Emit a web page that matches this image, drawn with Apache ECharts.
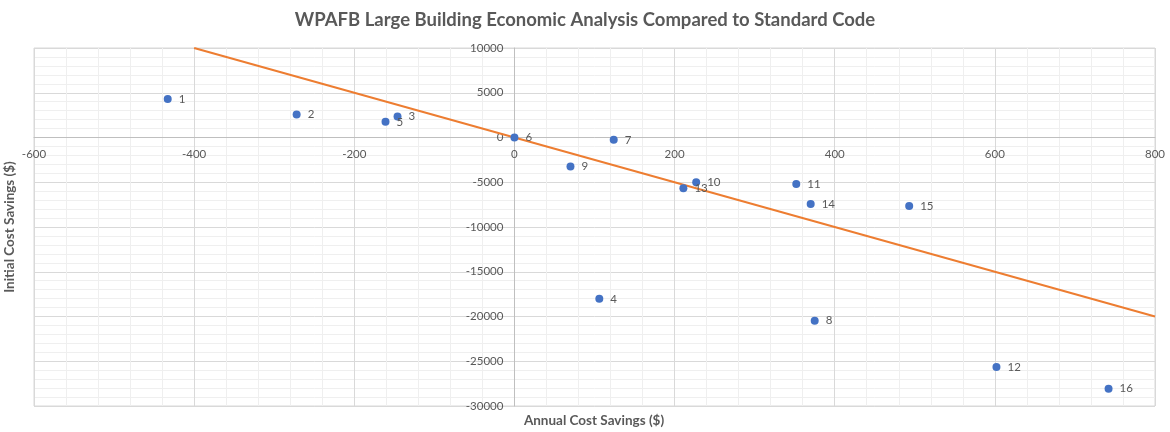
<!DOCTYPE html>
<html>
<head>
<meta charset="utf-8">
<script src="https://cdn.jsdelivr.net/npm/echarts@6/dist/echarts.min.js"></script>
<style>
html,body{margin:0;padding:0;background:#fff;}
#chart{width:1170px;height:432px;}
</style>
</head>
<body>
<div id="chart"></div>
<script>
const pointLabels = ['1','2','3','4','5','6','7','8','9','10','11','12','13','14','15','16'];
const annualSavings = [-433, -272, -146, 106, -161, 0, 124, 375, 70, 227, 352, 602, 211, 370, 493, 742];
const initialSavings = [4300, 2575, 2350, -18030, 1750, 0, -260, -20480, -3250, -5000, -5190, -25630, -5670, -7430, -7650, -28070];
const trendX = [-400, 800];
const trendY = [10000, -20000];
const xMin = -600, xMax = 800, xStep = 200;
const yMin = -30000, yMax = 10000, yStep = 5000;

const fontFam = 'Lato, "Open Sans", sans-serif';
const txt = '#595959';
const W = 1170, H = 432;
const G = {left: 34, right: 15, top: 48, bottom: 26};
const gw = W - G.left - G.right, gh = H - G.top - G.bottom;
// move axes onto the zero lines (axes cross at origin)
const xAxisOffset = -gh * (0 - yMin) / (yMax - yMin);
const yAxisOffset = -gw * (0 - xMin) / (xMax - xMin);

const chart = echarts.init(document.getElementById('chart'), null, {renderer: 'canvas'});
chart.setOption({
  animation: false,
  backgroundColor: '#fff',
  title: {
    text: 'WPAFB Large Building Economic Analysis Compared to Standard Code',
    left: 'center', top: 6,
    textStyle: {fontFamily: fontFam, fontSize: 18.5, fontWeight: 'bold', color: txt}
  },
  grid: {left: G.left, right: G.right, top: G.top, bottom: G.bottom, show: true, borderColor: '#d9d9d9', borderWidth: 1, outerBoundsMode: 'none', containLabel: false},
  xAxis: {
    type: 'value', min: xMin, max: xMax, interval: xStep,
    position: 'bottom', offset: xAxisOffset,
    axisLine: {show: true, onZero: false, lineStyle: {color: '#bfbfbf', width: 1}},
    axisTick: {show: false},
    axisLabel: {color: txt, fontFamily: fontFam, fontSize: 11.5, margin: 11, formatter: v => String(v)},
    splitLine: {show: true, lineStyle: {color: '#d9d9d9', width: 1}},
    minorTick: {show: false, splitNumber: 5},
    minorSplitLine: {show: true, lineStyle: {color: '#efefef', width: 1}}
  },
  yAxis: {
    type: 'value', min: yMin, max: yMax, interval: yStep,
    position: 'left', offset: yAxisOffset,
    axisLine: {show: true, onZero: false, lineStyle: {color: '#bfbfbf', width: 1}},
    axisTick: {show: false},
    axisLabel: {color: txt, fontFamily: fontFam, fontSize: 11.5, margin: 11, formatter: v => String(v)},
    splitLine: {show: true, lineStyle: {color: '#d9d9d9', width: 1}},
    minorTick: {show: false, splitNumber: 5},
    minorSplitLine: {show: true, lineStyle: {color: '#efefef', width: 1}}
  },
  graphic: [
    {type: 'text', x: 594, y: 421, style: {text: 'Annual Cost Savings ($)', fill: txt, font: 'bold 13.5px ' + fontFam, textAlign: 'center', textVerticalAlign: 'middle'}},
    {type: 'text', x: 10, y: 227, rotation: Math.PI / 2, style: {text: 'Initial Cost Savings ($)', fill: txt, font: 'bold 13.5px ' + fontFam, textAlign: 'center', textVerticalAlign: 'middle'}}
  ],
  series: [
    {
      type: 'line',
      data: trendX.map((x, i) => [x, trendY[i]]),
      symbol: 'none',
      lineStyle: {color: '#ED7D31', width: 2},
      z: 3
    },
    {
      type: 'scatter',
      data: annualSavings.map((x, i) => [x, initialSavings[i], pointLabels[i]]),
      symbolSize: 8,
      itemStyle: {color: '#4472C4', opacity: 1},
      label: {show: true, position: 'right', distance: 7, formatter: p => p.data[2], color: txt, fontFamily: fontFam, fontSize: 11.5},
      z: 4
    }
  ]
});
</script>
</body>
</html>
